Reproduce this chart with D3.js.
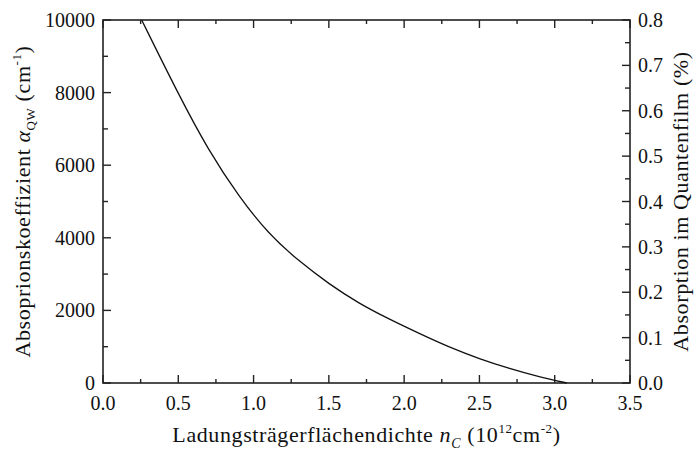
<!DOCTYPE html>
<html><head><meta charset="utf-8">
<script src="https://cdn.jsdelivr.net/npm/d3@7"></script>
<style>body{margin:0;background:#fff}svg{display:block}</style>
</head><body><svg id="c" width="698" height="459" font-family="'Liberation Serif', 'Times New Roman', Tinos, 'DejaVu Serif', 'Noto Serif', serif"></svg>
<script>
const density = [0.257, 0.5, 0.7, 0.9, 1.1, 1.3, 1.5, 1.7, 1.9, 2.1, 2.3, 2.5, 2.7, 2.9, 3.08];
const alphaQW = [10000, 7960, 6410, 5150, 4100, 3360, 2730, 2190, 1760, 1365, 985, 665, 397, 165, 0];
const xTicks = [0.0, 0.5, 1.0, 1.5, 2.0, 2.5, 3.0, 3.5];
const yLeftTicks = [0, 2000, 4000, 6000, 8000, 10000];
const yRightTicks = [0.0, 0.1, 0.2, 0.3, 0.4, 0.5, 0.6, 0.7, 0.8];

const svg = d3.select("#c");
const L = 103, R = 630, T = 20, B = 383;
const x = d3.scaleLinear().domain([0, 3.5]).range([L, R]);
const y = d3.scaleLinear().domain([0, 10000]).range([B, T]);
const y2 = d3.scaleLinear().domain([0, 0.8]).range([B, T]);
const col = "#222";
const fs = 20, tfs = 22;

function minor(a, b, step){ const r=[]; for(let v=a; v<=b+1e-9; v+=step) r.push(+v.toFixed(6)); return r; }
const g = svg.append("g").attr("fill", "#111");

g.append("rect").attr("x", L).attr("y", T).attr("width", R-L).attr("height", B-T)
 .attr("fill","none").attr("stroke", col).attr("stroke-width", 1.6);

minor(0, 3.5, 0.25).forEach(v => {
  const major = Math.abs(v*2 - Math.round(v*2)) < 1e-6;
  const len = major ? 8 : 4;
  g.append("line").attr("x1", x(v)).attr("x2", x(v)).attr("y1", B).attr("y2", B-len).attr("stroke", col).attr("stroke-width",1.4);
  g.append("line").attr("x1", x(v)).attr("x2", x(v)).attr("y1", T).attr("y2", T+len).attr("stroke", col).attr("stroke-width",1.4);
});
xTicks.forEach(v => {
  g.append("text").attr("x", x(v)).attr("y", 410).attr("text-anchor","middle").attr("font-size", fs).text(v.toFixed(1));
});

minor(0, 10000, 1000).forEach(v => {
  const major = v % 2000 === 0;
  g.append("line").attr("x1", L).attr("x2", L + (major?8:5)).attr("y1", y(v)).attr("y2", y(v)).attr("stroke", col).attr("stroke-width",1.4);
});
yLeftTicks.forEach(v => {
  g.append("text").attr("x", L-8).attr("y", y(v)).attr("dy","0.35em").attr("text-anchor","end").attr("font-size", fs).text(v);
});

minor(0, 0.8, 0.05).forEach(v => {
  const major = Math.abs(v*10 - Math.round(v*10)) < 1e-6;
  g.append("line").attr("x1", R).attr("x2", R - (major?8:5)).attr("y1", y2(v)).attr("y2", y2(v)).attr("stroke", col).attr("stroke-width",1.4);
});
yRightTicks.forEach(v => {
  g.append("text").attr("x", R+8).attr("y", y2(v)).attr("dy","0.35em").attr("text-anchor","start").attr("font-size", fs).text(v.toFixed(1));
});

const pts = density.map((d,i)=>[d, alphaQW[i]]);
g.append("path").datum(pts).attr("fill","none").attr("stroke","#111").attr("stroke-width",1.3)
 .attr("d", d3.line().x(d=>x(d[0])).y(d=>y(d[1])).curve(d3.curveBasis));

const xt = g.append("text").attr("x", (L+R)/2).attr("y", 442).attr("text-anchor","middle").attr("font-size", tfs).attr("letter-spacing", 0.6);
xt.append("tspan").text("Ladungsträgerflächendichte ");
xt.append("tspan").attr("font-style","italic").text("n");
xt.append("tspan").attr("font-style","italic").attr("font-size", 14).attr("dy", 6).text("C");
xt.append("tspan").attr("dy", -6).text(" (10");
xt.append("tspan").attr("font-size", 13).attr("dy", -9).text("12");
xt.append("tspan").attr("dy", 9).text("cm");
xt.append("tspan").attr("font-size", 13).attr("dy", -9).text("-2");
xt.append("tspan").attr("dy", 9).text(")");

const yt = g.append("text").attr("transform", `translate(30,${(T+B)/2}) rotate(-90)`).attr("text-anchor","middle").attr("font-size", tfs).attr("letter-spacing", 0.6);
yt.append("tspan").text("Absoprionskoeffizient ");
yt.append("tspan").attr("font-style","italic").text("α");
yt.append("tspan").attr("font-size", 13).attr("dy", 5).text("QW");
yt.append("tspan").attr("dy", -5).text("  (cm");
yt.append("tspan").attr("font-size", 13).attr("dy", -9).text("-1");
yt.append("tspan").attr("dy", 9).text(")");

g.append("text").attr("transform", `translate(688,${(T+B)/2}) rotate(-90)`).attr("text-anchor","middle").attr("font-size", tfs).attr("letter-spacing", 0.6)
 .text("Absorption im Quantenfilm (%)");
</script></body></html>
